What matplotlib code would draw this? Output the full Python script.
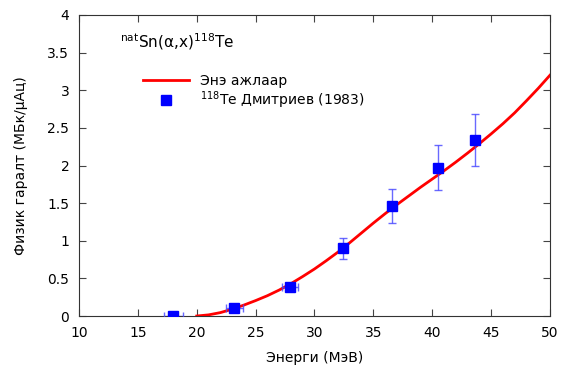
import numpy as np
import matplotlib
matplotlib.use('Agg')
from matplotlib import pyplot as plt

# calculated curve (this work)
curve_e = [20, 21, 22, 23, 24, 25, 26, 27, 28, 29, 30, 31, 32, 33, 34, 35,
           36, 37, 38, 39, 40, 41, 42, 43, 44, 45, 46, 47, 48, 49, 50]
curve_y = [0.0, 0.015, 0.045, 0.09, 0.145, 0.205, 0.27, 0.345, 0.43, 0.525,
           0.625, 0.735, 0.85, 0.975, 1.105, 1.235, 1.36, 1.48, 1.595, 1.71,
           1.82, 1.93, 2.045, 2.165, 2.29, 2.42, 2.555, 2.70, 2.86, 3.025, 3.20]

# Dmitriev (1983)
exp_e = [18.0, 23.2, 27.9, 32.4, 36.6, 40.5, 43.6]
exp_y = [0.0, 0.11, 0.39, 0.90, 1.46, 1.97, 2.34]
exp_dx = [0.8, 0.75, 0.7, 0.3, 0.3, 0.3, 0.3]
exp_dy = [0.0, 0.02, 0.03, 0.137, 0.23, 0.3, 0.35]

plt.rcParams['font.family'] = ['DejaVu Sans']
px = 1 / 100
fig = plt.figure(figsize=(567 * px, 372 * px), dpi=100)
ax = fig.add_axes([0.1393, 0.1505, 0.8307, 0.8092])

ax.plot(curve_e, curve_y, color='red', lw=2, label='Энэ ажлаар', zorder=3)
ax.errorbar(exp_e, exp_y, xerr=exp_dx, yerr=exp_dy, fmt='none',
            ecolor='#4444ff', elinewidth=1, capsize=3, alpha=0.8, zorder=4)
ax.plot(exp_e, exp_y, 's', color='blue', ms=7.5, ls='none',
        label=r'$^{118}$Te Дмитриев (1983)', zorder=5)

ax.set_xlim(10, 50)
ax.set_ylim(0, 4)
ax.set_xticks(np.arange(10, 51, 5))
ax.set_yticks(np.arange(0, 4.01, 0.5))
ax.set_yticklabels(['0', '0.5', '1', '1.5', '2', '2.5', '3', '3.5', '4'])
ax.tick_params(direction='in', top=True, right=True, length=5, labelsize=10,
               color='#444444', pad=7)
for s in ax.spines.values():
    s.set_color('#333333')

ax.set_xlabel('Энерги (МэВ)', fontsize=10, labelpad=8)
ax.set_ylabel('Физик гаралт (МБк/μАц)', fontsize=10, labelpad=14)

ax.text(0.087, 0.91, r'$^{\mathrm{nat}}$Sn(α,x)$^{118}$Te', transform=ax.transAxes,
        fontsize=11, va='center')

ax.legend(loc='upper left', bbox_to_anchor=(0.125, 0.823), frameon=False,
          fontsize=10, handlelength=3.3, handletextpad=0.8, labelspacing=0.1,
          borderaxespad=0)

fig.savefig('out.png', dpi=100)
